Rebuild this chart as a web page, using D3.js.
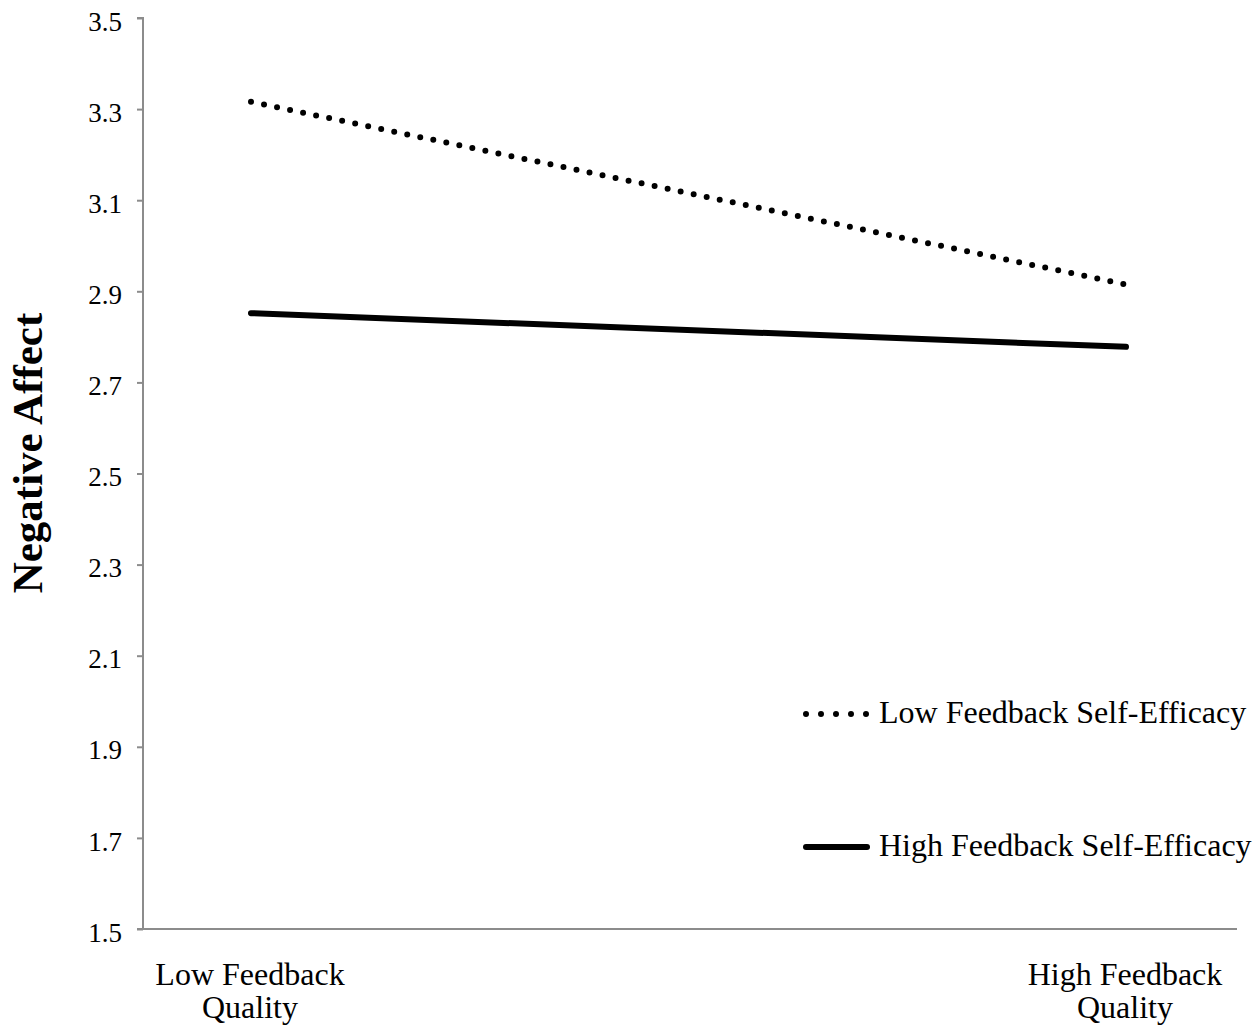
<!DOCTYPE html>
<html><head><meta charset="utf-8">
<script src="https://cdn.jsdelivr.net/npm/d3@7"></script>
<style>body{margin:0;background:#fff}svg{display:block}text{font-family:"Liberation Serif","Times New Roman",serif;fill:#000}</style>
</head><body>
<svg id="c" width="1254" height="1031"></svg>
<script>
const categories = ["Low Feedback Quality", "High Feedback Quality"];
const categoryLines = [["Low Feedback", "Quality"], ["High Feedback", "Quality"]];
const seriesNames = ["Low Feedback Self-Efficacy", "High Feedback Self-Efficacy"];
const lowSelfEfficacy = [3.316, 2.915];
const highSelfEfficacy = [2.852, 2.778];
const yTicks = [1.5, 1.7, 1.9, 2.1, 2.3, 2.5, 2.7, 2.9, 3.1, 3.3, 3.5];

const svg = d3.select("#c");
const axisLeft = 143, axisRight = 1237, axisTop = 18, axisBottom = 929;
const y = d3.scaleLinear().domain([1.5, 3.5]).range([axisBottom, axisTop]);
const x = d3.scalePoint().domain(categories).range([251, 1126]);

// y axis
const ya = svg.append("g").attr("transform", `translate(${axisLeft},0)`)
  .call(d3.axisLeft(y).tickValues(yTicks).tickFormat(d3.format(".1f")).tickSize(6).tickPadding(15));
ya.select(".domain").attr("stroke", "#8c8c8c").attr("stroke-width", 2).attr("d", `M-6,${axisTop}H0V${axisBottom}`);
ya.selectAll(".tick line").attr("stroke", "#8c8c8c").attr("stroke-width", 2);
ya.selectAll(".tick text").style("font-size", "27px").attr("fill", "#000").attr("dy", "0.45em")
  .style("font-family", '"Liberation Serif",serif');

// x axis line
svg.append("line").attr("x1", axisLeft - 6).attr("x2", axisRight).attr("y1", axisBottom).attr("y2", axisBottom)
  .attr("stroke", "#8c8c8c").attr("stroke-width", 2);

// x labels
categories.forEach((c, i) => {
  const t = svg.append("text").attr("text-anchor", "middle").style("font-size", "32px");
  categoryLines[i].forEach((ln, j) => {
    t.append("tspan").attr("x", x(c) - 1).attr("y", 985 + j * 33).text(ln);
  });
});

// y label
svg.append("text").attr("transform", "translate(42,453) rotate(-90)").attr("text-anchor", "middle")
  .style("font-size", "43px").style("font-weight", "bold").text("Negative Affect");

const line = d3.line().x((d, i) => x(categories[i])).y(d => y(d));

svg.append("path").datum(lowSelfEfficacy).attr("d", line).attr("fill", "none").attr("stroke", "#000")
  .attr("stroke-width", 6).attr("stroke-linecap", "round").attr("stroke-dasharray", "0,13.3");
svg.append("path").datum(highSelfEfficacy).attr("d", line).attr("fill", "none").attr("stroke", "#000")
  .attr("stroke-width", 6).attr("stroke-linecap", "round");

// legend
const legend = [{name: seriesNames[0], dash: "0,15", y: 714}, {name: seriesNames[1], dash: null, y: 847}];
legend.forEach(l => {
  const p = svg.append("line").attr("x1", 806).attr("x2", 867).attr("y1", l.y).attr("y2", l.y)
    .attr("stroke", "#000").attr("stroke-width", 6).attr("stroke-linecap", "round");
  if (l.dash) p.attr("stroke-dasharray", l.dash);
  svg.append("text").attr("x", 879).attr("y", l.y + 9).style("font-size", "32px").text(l.name);
});
</script>
</body></html>
